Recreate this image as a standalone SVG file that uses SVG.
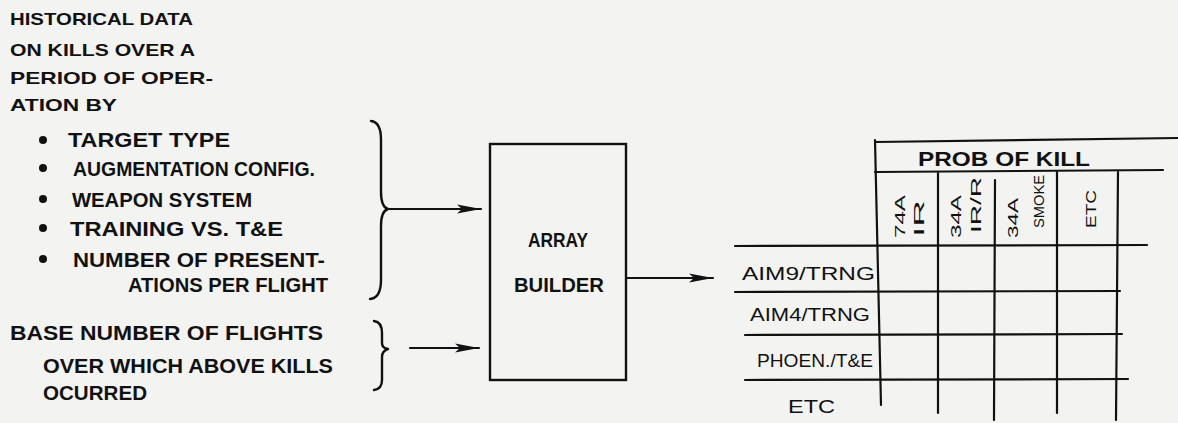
<svg xmlns="http://www.w3.org/2000/svg" width="1178" height="423" viewBox="0 0 1178 423">
<defs>
<marker id="ah" viewBox="0 0 24 12" refX="24" refY="6" markerWidth="24" markerHeight="12" markerUnits="userSpaceOnUse" orient="auto">
<path d="M0,1.5 L24,6 L0,10.5 L5,6 Z" fill="#111"/>
</marker>
<style>
.t{font-family:"Liberation Sans",Arial,sans-serif;fill:#111;font-size:17px;font-weight:bold}
.l{font-size:20px}
.s{font-size:18px;font-weight:normal}
.r{font-family:"Liberation Sans",Arial,sans-serif;fill:#111;font-size:15px}
.ln{stroke:#111;stroke-width:2.2;fill:none;stroke-linecap:round}
.br{stroke:#111;stroke-width:2.4;fill:none;stroke-linecap:round;stroke-linejoin:round}
</style>
</defs>
<rect width="1178" height="423" fill="#f3f3f1"/>

<g id="historical-data">
<text class="t" x="10" y="25" textLength="183" lengthAdjust="spacingAndGlyphs">HISTORICAL DATA</text>
<text class="t" x="10" y="56" textLength="185" lengthAdjust="spacingAndGlyphs">ON KILLS OVER A</text>
<text class="t" x="10" y="84" textLength="203" lengthAdjust="spacingAndGlyphs">PERIOD OF OPER-</text>
<text class="t" x="10" y="111" textLength="107" lengthAdjust="spacingAndGlyphs">ATION BY</text>
<g fill="#111">
<circle cx="43" cy="140" r="4"/>
<circle cx="43" cy="168" r="4"/>
<circle cx="43" cy="199" r="4"/>
<circle cx="43" cy="228" r="4"/>
<circle cx="43" cy="259" r="4"/>
</g>
<text class="t l" x="68" y="147" textLength="162" lengthAdjust="spacingAndGlyphs">TARGET TYPE</text>
<text class="t l" x="73" y="176" textLength="242" lengthAdjust="spacingAndGlyphs">AUGMENTATION CONFIG.</text>
<text class="t l" x="72" y="207" textLength="180" lengthAdjust="spacingAndGlyphs">WEAPON SYSTEM</text>
<text class="t l" x="70" y="236" textLength="213" lengthAdjust="spacingAndGlyphs">TRAINING VS. T&amp;E</text>
<text class="t l" x="73" y="267" textLength="252" lengthAdjust="spacingAndGlyphs">NUMBER OF PRESENT-</text>
<text class="t l" x="128" y="292" textLength="200" lengthAdjust="spacingAndGlyphs">ATIONS PER FLIGHT</text>
<path class="br" d="M371,121 Q381,122 381,140 L381,192 Q381,207 388,209 Q381,211 381,226 L381,280 Q381,298 370,299"/>
</g>

<g id="base-flights">
<text class="t l" x="10" y="340" textLength="313" lengthAdjust="spacingAndGlyphs">BASE NUMBER OF FLIGHTS</text>
<text class="t l" x="43" y="373" textLength="290" lengthAdjust="spacingAndGlyphs">OVER WHICH ABOVE KILLS</text>
<text class="t l" x="43" y="400" textLength="104" lengthAdjust="spacingAndGlyphs">OCURRED</text>
<path class="br" d="M374,321 Q382,322 382,333 L382,343 Q382,348 388,349 Q382,351 382,357 L382,380 Q382,389 374,390"/>
</g>

<g id="array-builder">
<rect x="490" y="144" width="136" height="236" fill="none" stroke="#111" stroke-width="2.4"/>
<text class="t l" x="558" y="247" text-anchor="middle" textLength="60" lengthAdjust="spacingAndGlyphs">ARRAY</text>
<text class="t l" x="559" y="292" text-anchor="middle" textLength="90" lengthAdjust="spacingAndGlyphs">BUILDER</text>
</g>

<g id="pk-table">
<path class="ln" d="M875,142 L1178,138"/>
<path class="ln" d="M875,172 L1163,170"/>
<path class="ln" d="M735,246 L1147,245"/>
<path class="ln" d="M735,292 L1120,291"/>
<path class="ln" d="M745,335 L1122,334"/>
<path class="ln" d="M745,380 L1128,379"/>
<path class="ln" d="M875,140 L881,405"/>
<path class="ln" d="M938,173 L938,413"/>
<path class="ln" d="M995,180 L994,420"/>
<path class="ln" d="M1057,172 L1057,413"/>
<path class="ln" d="M1118,172 L1116,420"/>
<text class="t l" x="1004" y="166" text-anchor="middle" textLength="172" lengthAdjust="spacingAndGlyphs">PROB OF KILL</text>
<text class="r" transform="translate(905,238) rotate(-90)" textLength="43" lengthAdjust="spacingAndGlyphs">74A</text>
<text class="r" transform="translate(924,237) rotate(-90)" textLength="37" lengthAdjust="spacingAndGlyphs">IR</text>
<text class="r" transform="translate(961,238) rotate(-90)" textLength="43" lengthAdjust="spacingAndGlyphs">34A</text>
<text class="r" transform="translate(981,233) rotate(-90)" textLength="56" lengthAdjust="spacingAndGlyphs">IR/R</text>
<text class="r" transform="translate(1018,238) rotate(-90)" textLength="40" lengthAdjust="spacingAndGlyphs">34A</text>
<text class="r" font-size="11" transform="translate(1044,228) rotate(-90)" textLength="53" lengthAdjust="spacingAndGlyphs">SMOKE</text>
<text class="r" transform="translate(1096,228) rotate(-90)" textLength="38" lengthAdjust="spacingAndGlyphs">ETC</text>
<text class="t s" x="742" y="280" textLength="133" lengthAdjust="spacingAndGlyphs">AIM9/TRNG</text>
<text class="t s" x="750" y="321" textLength="120" lengthAdjust="spacingAndGlyphs">AIM4/TRNG</text>
<text class="t s" x="757" y="367" textLength="116" lengthAdjust="spacingAndGlyphs">PHOEN./T&amp;E</text>
<text class="t s" x="788" y="413" textLength="47" lengthAdjust="spacingAndGlyphs">ETC</text>
</g>

<g id="connectors">
<line class="ln" x1="386" y1="209" x2="481" y2="209" marker-end="url(#ah)"/>
<line class="ln" x1="410" y1="348" x2="479" y2="348" marker-end="url(#ah)"/>
<line class="ln" x1="627" y1="278" x2="713" y2="278" marker-end="url(#ah)"/>
</g>
</svg>
